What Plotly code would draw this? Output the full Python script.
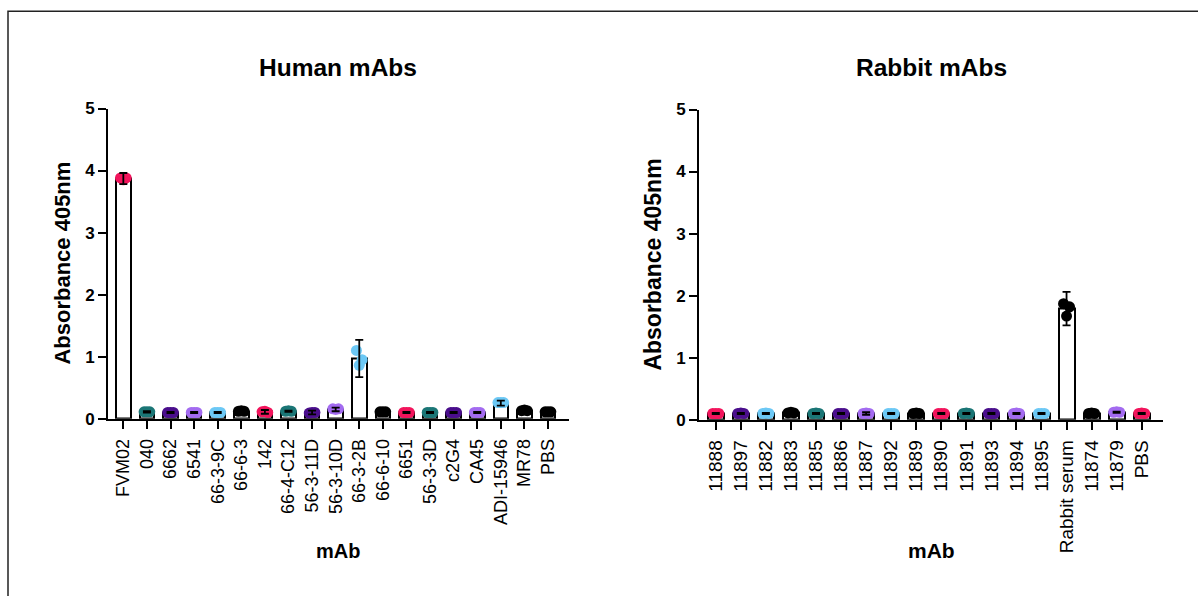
import plotly.graph_objects as go

# ---------------- data ----------------
human_labels = ["FVM02", "040", "6662", "6541", "66-3-9C", "66-6-3", "142", "66-4-C12",
                "56-3-11D", "56-3-10D", "66-3-2B", "66-6-10", "6651", "56-3-3D", "c2G4",
                "CA45", "ADI-15946", "MR78", "PBS"]
human_mean = [3.87, 0.11, 0.10, 0.10, 0.10, 0.12, 0.11, 0.12, 0.10, 0.15, 0.97, 0.11,
              0.10, 0.10, 0.10, 0.10, 0.25, 0.13, 0.11]
human_sd = [0.09, 0.01, 0.01, 0.01, 0.01, 0.01, 0.03, 0.01, 0.03, 0.03, 0.30, 0.01,
            0.01, 0.01, 0.01, 0.01, 0.04, 0.01, 0.01]
human_reps = [[3.88, 3.85, 3.88], [0.11, 0.11, 0.11], [0.10, 0.10, 0.10], [0.10, 0.10, 0.10],
              [0.10, 0.10, 0.10], [0.12, 0.13, 0.12], [0.11, 0.12, 0.10], [0.12, 0.13, 0.12],
              [0.09, 0.10, 0.10], [0.16, 0.15, 0.16], [1.10, 0.86, 0.95], [0.11, 0.11, 0.11],
              [0.10, 0.10, 0.10], [0.10, 0.10, 0.10], [0.10, 0.10, 0.10], [0.10, 0.10, 0.10],
              [0.26, 0.26, 0.26], [0.13, 0.14, 0.13], [0.11, 0.11, 0.11]]
human_colors = ["#F2145C", "#1B7676", "#4A0E8C", "#A36BF0", "#6CC8F5", "#000000",
                "#F2145C", "#1B7676", "#4A0E8C", "#A36BF0", "#6CC8F5", "#000000",
                "#F2145C", "#1B7676", "#4A0E8C", "#A36BF0", "#6CC8F5", "#000000", "#000000"]

rabbit_labels = ["11888", "11897", "11882", "11883", "11885", "11886", "11887", "11892",
                 "11889", "11890", "11891", "11893", "11894", "11895", "Rabbit serum",
                 "11874", "11879", "PBS"]
rabbit_mean = [0.10, 0.10, 0.10, 0.11, 0.10, 0.10, 0.10, 0.10, 0.10, 0.10, 0.10, 0.10,
               0.10, 0.10, 1.79, 0.10, 0.12, 0.10]
rabbit_sd = [0.01, 0.01, 0.01, 0.01, 0.01, 0.01, 0.02, 0.01, 0.01, 0.01, 0.01, 0.01,
             0.01, 0.01, 0.27, 0.01, 0.01, 0.01]
rabbit_reps = [[0.10, 0.10, 0.10], [0.10, 0.11, 0.10], [0.10, 0.11, 0.10], [0.11, 0.12, 0.11],
               [0.10, 0.11, 0.10], [0.10, 0.10, 0.10], [0.10, 0.11, 0.10], [0.10, 0.10, 0.10],
               [0.10, 0.11, 0.10], [0.10, 0.10, 0.10], [0.10, 0.11, 0.10], [0.10, 0.10, 0.10],
               [0.10, 0.11, 0.10], [0.10, 0.10, 0.10], [1.87, 1.67, 1.82], [0.10, 0.11, 0.10],
               [0.12, 0.13, 0.12], [0.10, 0.11, 0.10]]
rabbit_colors = ["#F2145C", "#4A0E8C", "#6CC8F5", "#000000", "#1B7676", "#4A0E8C",
                 "#A36BF0", "#6CC8F5", "#000000", "#F2145C", "#1B7676", "#4A0E8C",
                 "#A36BF0", "#6CC8F5", "#000000", "#000000", "#A36BF0", "#F2145C"]

# ---------------- figure ----------------
W, H = 1198, 596
FONT = "Liberation Sans, Arial, sans-serif"
jitter = [-0.12, 0.0, 0.12]
# empirical vertical correction of the rendering pipeline
VS, VA = 0.9644, 9.88


def fx(px):
    return px / W


def fy(py):
    return 1 - ((py - VA) / VS) / H


fig = go.Figure()


def add_panel(labels, means, sds, reps, colors, xa, ya, bw):
    idx = list(range(len(labels)))
    fig.add_trace(go.Bar(x=idx, y=means, width=bw, xaxis=xa, yaxis=ya,
                         marker=dict(color="white", line=dict(color="black", width=2)),
                         showlegend=False, hoverinfo="skip"))
    px, py, pc = [], [], []
    for i, r in enumerate(reps):
        for j, v in enumerate(r):
            px.append(i + jitter[j % len(jitter)])
            py.append(v)
            pc.append(colors[i])
    fig.add_trace(go.Scatter(x=px, y=py, mode="markers", xaxis=xa, yaxis=ya,
                             marker=dict(color=pc, size=11, line=dict(width=0)),
                             cliponaxis=False, showlegend=False))
    fig.add_trace(go.Scatter(x=idx, y=means, mode="markers", xaxis=xa, yaxis=ya,
                             marker=dict(color="rgba(0,0,0,0)", size=1),
                             error_y=dict(type="data", array=sds, visible=True,
                                          color="black", thickness=1.8, width=4),
                             cliponaxis=False, showlegend=False))


add_panel(human_labels, human_mean, human_sd, human_reps, human_colors, "x", "y", 0.62)
add_panel(rabbit_labels, rabbit_mean, rabbit_sd, rabbit_reps, rabbit_colors, "x2", "y2", 0.64)

common_x = dict(showgrid=False, zeroline=False, showline=True, linecolor="black", linewidth=2,
                ticks="outside", ticklen=8, tickwidth=2, tickcolor="black", tickangle=-90,
                ticklabelstandoff=3, fixedrange=True)
common_y = dict(showgrid=False, zeroline=False, showline=True, linecolor="black", linewidth=2,
                ticks="outside", ticklen=8, tickwidth=2, tickcolor="black", range=[0, 5],
                tickvals=[0, 1, 2, 3, 4, 5], fixedrange=True,
                tickfont=dict(family=FONT, size=17, color="black", weight="bold"))

fig.update_layout(
    width=W, height=H, margin=dict(l=0, r=0, t=0, b=0),
    plot_bgcolor="white", paper_bgcolor="white", bargap=0,
    xaxis=dict(domain=[fx(108), fx(569)], range=[-0.65, 18.89],
               tickvals=list(range(len(human_labels))), ticktext=human_labels,
               tickfont=dict(family=FONT, size=18, color="black"), anchor="y", **common_x),
    yaxis=dict(domain=[fy(418), fy(109)], anchor="x", **common_y),
    xaxis2=dict(domain=[fx(699), fx(1163)], range=[-0.67, 17.85],
                tickvals=list(range(len(rabbit_labels))), ticktext=rabbit_labels,
                tickfont=dict(family=FONT, size=19, color="black"), anchor="y2", **common_x),
    yaxis2=dict(domain=[fy(419), fy(110)], anchor="x2", **common_y),
    font=dict(family=FONT, color="black"),
)

annots = [
    dict(text="<b>Human mAbs</b>", x=338, y=68, size=24.5, angle=0),
    dict(text="<b>Rabbit mAbs</b>", x=931, y=68, size=24.5, angle=0),
    dict(text="<b>Absorbance 405nm</b>", x=63, y=263.5, size=22, angle=-90),
    dict(text="<b>Absorbance 405nm</b>", x=653, y=264.5, size=23, angle=-90),
    dict(text="<b>mAb</b>", x=338, y=550, size=20, angle=0),
    dict(text="<b>mAb</b>", x=931, y=549, size=21, angle=0),
]
for a in annots:
    fig.add_annotation(text=a["text"], x=fx(a["x"]), y=fy(a["y"]), xref="paper", yref="paper",
                       xanchor="center", yanchor="middle", showarrow=False,
                       textangle=a["angle"], font=dict(family=FONT, size=a["size"], color="black"))

# outer frame (left and top edges visible)
fig.add_shape(type="path", xref="paper", yref="paper",
              path=f"M {fx(8)},{-0.1} L {fx(8)},{fy(12)} L {1.05},{fy(12)}",
              line=dict(color="#222222", width=1.5))

fig.write_html("out.html", config={"displayModeBar": False},
               post_script="document.body.style.margin='0';"
                           "document.body.style.overflow='hidden';")
